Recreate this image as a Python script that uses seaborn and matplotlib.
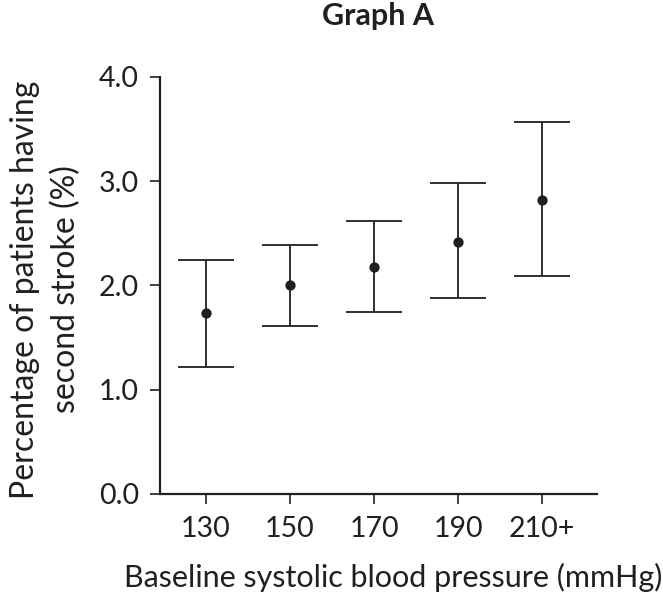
import seaborn as sns
import matplotlib.pyplot as plt
import pandas as pd

sns.set_style("ticks")
plt.rcParams['font.family'] = ['Lato', 'DejaVu Sans']

ink = "#231f20"

pressure = ["130", "150", "170", "190", "210+"]
mean_pct = [1.73, 2.00, 2.18, 2.42, 2.82]
lower_pct = [1.22, 1.61, 1.74, 1.88, 2.09]
upper_pct = [2.24, 2.39, 2.62, 2.98, 3.57]

df = pd.DataFrame({"Pressure": pressure, "Mean": mean_pct,
                   "Lower": lower_pct, "Upper": upper_pct})
df["pos"] = range(len(df))

fig = plt.figure(figsize=(6.63, 6.0), dpi=100)
ax = fig.add_axes([0.241, 0.177, 0.659, 0.695])

ax.errorbar(df["pos"], df["Mean"],
            yerr=[df["Mean"] - df["Lower"], df["Upper"] - df["Mean"]],
            fmt="none", ecolor=ink, elinewidth=1.3, capsize=20.5, capthick=1.3,
            clip_on=False)
sns.scatterplot(x="pos", y="Mean", data=df, color=ink, s=55, edgecolor=ink,
                linewidth=0, zorder=3, ax=ax, clip_on=False)

ax.set_xlim(-0.55, 4.65)
ax.set_ylim(0, 4.0)
ax.set_xticks(df["pos"])
ax.set_xticklabels(pressure)
ax.set_yticks([0, 1, 2, 3, 4])
ax.set_yticklabels(["0.0", "1.0", "2.0", "3.0", "4.0"])

sns.despine(ax=ax)
for s in ["left", "bottom"]:
    ax.spines[s].set_linewidth(1.6)
    ax.spines[s].set_color(ink)
ax.tick_params(axis="both", length=7, width=1.2, color=ink, labelsize=20.5,
               labelcolor=ink)
ax.tick_params(axis="x", pad=9)
ax.tick_params(axis="y", pad=8)

ax.set_xlabel("Baseline systolic blood pressure (mmHg)", fontsize=22, color=ink)
ax.xaxis.set_label_coords(0.535, -0.165)
ax.set_ylabel("Percentage of patients having\nsecond stroke (%)", fontsize=23,
              color=ink, linespacing=1.45)
ax.yaxis.set_label_coords(-0.18, 0.49)
ax.set_title("Graph A", fontsize=22, fontweight="bold", color=ink, y=1.105,
             va="baseline")

plt.savefig("out.png", dpi=100)
plt.close()
